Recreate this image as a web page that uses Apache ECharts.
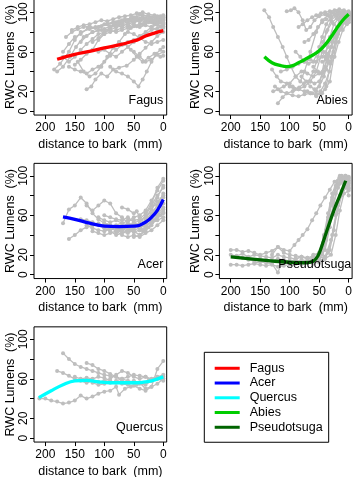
<!DOCTYPE html>
<html><head><meta charset="utf-8">
<script src="https://cdn.jsdelivr.net/npm/echarts@6/dist/echarts.min.js"></script>
<style>html,body{margin:0;padding:0;background:#fff}#c{width:354px;height:477px}</style>
</head><body><div id="c"></div>
<script>
// ---------- tick values ----------
const xTicks = [200, 150, 100, 50, 0];
const yTicks = [0, 20, 40, 60, 80, 100];
const yTickLabels = [0, 20, 60, 100];
const legendOrder = ['Fagus', 'Acer', 'Quercus', 'Abies', 'Pseudotsuga'];

// ---------- fitted (smooth) curves: [distance, RWC] ----------
const fagusFit = [[180,52.5],[150,57.5],[125,60.5],[100,64],[75,67],[50,71],[42,72.5],[30,76],[15,79],[0,81.5]];
const abiesFit = [[143,55],[130,49],[115,46],[105,45],[95,46],[85,49],[75,52],[60,57],[50,61],[40,67],[30,75],[20,84],[10,92],[0,98]];
const acerFit = [[170,58.5],[150,56],[125,52],[100,49],[75,48.5],[50,49],[40,50],[30,53],[20,58],[10,65],[0,76]];
const pseudoFit = [[200,18],[175,16.5],[150,15],[125,13.5],[100,12.5],[75,12],[60,13.5],[52,19],[45,30],[35,48],[25,65],[15,80],[5,95]];
const quercusFit = [[211,41],[190,48],[170,54],[150,58],[130,58.5],[110,57],[90,56],[70,56],[50,56],[35,56.5],[20,58],[0,62]];

// ---------- individual trees (grey) ----------
const fagusTrees = [
 [[185,42],[175,48],[160,60],[150,72],[140,80],[125,83],[110,85],[95,88],[80,90],[65,92],[50,95],[35,97],[20,95],[5,93],[0,92]],
 [[180,40],[170,45],[158,55],[148,65],[135,75],[120,80],[105,82],[90,86],[75,88],[60,90],[45,92],[30,94],[15,90],[0,88]],
 [[170,60],[160,68],[150,75],[140,78],[128,84],[115,85],[100,88],[85,90],[70,92],[55,94],[40,98],[25,96],[10,94],[0,95]],
 [[150,47],[140,52],[130,58],[120,62],[110,72],[100,78],[90,84],[80,88],[70,90],[60,92],[50,94],[40,92],[30,90],[20,92],[10,90],[0,93]],
 [[145,50],[135,40],[125,35],[115,38],[105,45],[95,55],[85,64],[75,70],[65,78],[55,84],[45,86],[35,88],[25,90],[15,88],[5,86],[0,85]],
 [[130,22],[122,25],[115,32],[105,38],[95,35],[85,42],[75,44],[62,46],[50,52],[40,58],[30,64],[20,70],[10,76],[0,80]],
 [[160,45],[150,42],[140,40],[130,38],[120,42],[110,45],[100,50],[90,56],[80,62],[70,67],[60,70],[50,72],[40,75],[30,78],[20,82],[10,84],[0,86]],
 [[120,70],[110,74],[100,80],[90,85],[80,86],[70,88],[60,88],[50,90],[40,93],[30,92],[20,90],[10,92],[0,94]],
 [[110,60],[100,62],[90,58],[80,55],[70,60],[60,65],[50,70],[40,76],[30,80],[20,85],[10,88],[0,90]],
 [[90,45],[80,40],[70,38],[60,35],[50,30],[42,25],[35,32],[28,40],[20,50],[12,58],[5,62],[0,65]],
 [[100,78],[90,80],[80,82],[70,84],[60,86],[50,88],[40,85],[30,87],[20,85],[10,82],[0,84]],
 [[75,70],[65,68],[55,62],[45,55],[35,50],[25,54],[15,58],[5,55],[0,56]],
 [[60,80],[50,78],[40,74],[30,70],[20,68],[10,70],[0,72]],
 [[140,70],[130,76],[120,80],[110,82],[100,83],[90,82],[80,80],[70,82],[60,84],[50,86],[40,88],[30,90],[20,92],[10,95],[0,96]],
 [[170,55],[160,50],[150,55],[140,62],[130,68],[120,73],[110,78],[100,80],[90,82],[80,85],[70,86],[60,88],[50,90],[40,91],[30,93],[20,94],[10,96],[0,97]],
 [[50,60],[40,55],[30,50],[20,52],[10,57],[0,60]],
 [[155,82],[145,85],[135,87],[125,88],[115,90],[105,92],[95,91],[85,93],[75,95],[65,96],[55,97],[45,99],[35,100],[25,98],[15,97],[5,96],[0,95]],
 [[165,75],[155,80],[145,83],[135,85],[125,86],[115,84],[105,86],[95,88],[85,89],[75,91],[65,93],[55,92],[45,94],[35,95],[25,93],[15,92],[5,90],[0,89]]
];
const abiesTrees = [
 [[143,102],[135,95],[128,85],[120,75],[112,65],[105,55],[98,45],[90,35],[82,30],[75,40],[65,60],[55,80],[45,92],[35,97],[25,99],[15,100],[5,98],[0,96]],
 [[105,101],[98,102],[92,104],[85,100],[78,92],[72,82],[65,85],[58,92],[50,96],[40,98],[30,100],[20,101],[10,99],[0,98]],
 [[130,42],[122,35],[115,30],[105,28],[95,25],[85,22],[75,25],[65,30],[55,40],[45,60],[38,80],[30,92],[20,97],[10,99],[0,99]],
 [[125,25],[115,20],[105,18],[95,20],[85,22],[75,20],[65,18],[55,20],[48,30],[40,55],[32,75],[25,88],[15,95],[5,97],[0,97]],
 [[120,8],[112,14],[105,18],[95,16],[85,15],[75,17],[65,18],[55,17],[45,18],[38,25],[30,50],[22,75],[15,90],[5,95],[0,94]],
 [[128,20],[120,22],[110,25],[100,28],[90,35],[80,40],[70,38],[60,35],[50,38],[40,45],[30,65],[20,85],[10,95],[0,97]],
 [[115,40],[105,42],[95,45],[85,48],[75,50],[65,52],[55,50],[45,55],[35,65],[25,80],[15,92],[5,98],[0,99]],
 [[90,60],[82,55],[75,50],[68,48],[60,50],[52,60],[45,75],[38,88],[30,95],[20,98],[10,101],[0,100]],
 [[80,35],[72,30],[65,25],[58,22],[50,25],[42,35],[35,50],[28,70],[20,85],[12,93],[5,96],[0,97]],
 [[70,20],[62,18],[55,16],[48,18],[40,22],[32,30],[25,55],[18,78],[10,90],[3,94],[0,95]],
 [[60,45],[52,40],[45,38],[38,42],[30,55],[22,70],[15,82],[8,90],[0,92]],
 [[85,85],[78,88],[70,92],[62,95],[55,97],[47,99],[40,100],[32,101],[24,102],[16,103],[8,102],[0,101]],
 [[75,70],[68,72],[60,78],[52,85],[45,90],[38,93],[30,96],[22,97],[14,98],[6,99],[0,98]],
 [[65,30],[58,28],[50,30],[43,40],[36,55],[28,70],[20,80],[12,88],[5,92],[0,93]],
 [[55,15],[48,20],[40,28],[33,40],[26,60],[20,75],[12,85],[5,90],[0,90]],
 [[100,25],[92,22],[84,24],[76,28],[68,30],[60,40],[52,55],[44,70],[36,82],[28,90],[20,94],[12,96],[4,98],[0,98]],
 [[50,65],[43,60],[36,58],[29,65],[22,78],[15,88],[8,94],[0,96]],
 [[45,50],[38,52],[31,48],[24,55],[17,70],[10,82],[3,88],[0,90]]
];
const acerTrees = [
 [[170,52],[160,66],[150,70],[140,78],[130,72],[120,62],[110,56],[100,52],[90,50],[80,48],[70,46],[60,44],[50,46],[40,52],[30,60],[20,70],[10,80],[0,88]],
 [[160,36],[150,40],[140,45],[130,48],[120,50],[110,52],[100,48],[90,46],[80,50],[70,52],[60,54],[50,58],[40,60],[30,65],[20,75],[10,85],[0,95]],
 [[130,70],[120,65],[110,70],[100,75],[90,72],[80,62],[70,58],[60,52],[50,50],[40,48],[30,55],[20,62],[10,70],[0,78]],
 [[70,68],[60,66],[50,62],[45,64],[40,58],[30,50],[20,58],[10,65],[0,72]],
 [[140,56],[130,55],[120,53],[110,50],[100,47],[90,44],[80,40],[70,42],[60,45],[50,43],[40,45],[30,48],[20,55],[10,62],[0,68]],
 [[120,44],[110,42],[100,40],[90,42],[80,44],[70,40],[60,38],[50,40],[40,38],[30,42],[20,45],[10,50],[0,55]],
 [[110,58],[100,55],[90,53],[80,55],[70,52],[60,50],[50,52],[40,55],[30,58],[20,66],[10,78],[0,90]],
 [[95,50],[85,48],[75,46],[65,48],[55,46],[45,50],[35,45],[25,48],[15,55],[5,60],[0,62]],
 [[80,42],[70,45],[60,47],[50,44],[40,40],[30,44],[20,52],[10,60],[0,66]],
 [[60,55],[50,55],[40,56],[30,62],[20,72],[10,88],[0,97]],
 [[50,38],[40,40],[30,46],[20,50],[10,58],[0,63]],
 [[100,60],[90,58],[80,56],[70,55],[60,58],[50,53],[40,50],[30,52],[20,60],[10,70],[0,82]],
 [[40,45],[30,56],[20,66],[10,74],[0,80]],
 [[130,50],[120,47],[110,45],[100,44],[90,46],[80,45],[70,43],[60,42],[50,45],[40,47],[30,50],[20,52],[10,55],[0,58]]
];
const pseudoTrees = [
 [[200,25],[190,25],[180,23],[170,24],[160,22],[150,20],[140,22],[130,24],[120,28],[110,25],[100,24],[92,30],[85,35],[78,40],[70,46],[62,55],[55,62],[48,70],[40,78],[32,86],[24,94],[16,98],[8,95],[0,92]],
 [[200,10],[190,10],[180,9],[170,10],[160,11],[150,10],[140,9],[130,10],[120,8],[110,9],[100,10],[90,11],[80,10],[70,12],[60,13],[50,15],[42,30],[35,55],[28,75],[20,90],[12,96],[5,94],[0,90]],
 [[200,20],[190,19],[180,21],[170,18],[160,20],[150,19],[140,18],[130,17],[120,20],[110,18],[100,17],[90,16],[80,18],[70,17],[60,19],[50,22],[42,40],[35,62],[28,82],[20,94],[12,100],[5,98],[0,95]],
 [[180,17],[170,15],[160,14],[150,16],[140,15],[130,14],[120,16],[110,15],[100,14],[90,15],[80,13],[70,12],[60,14],[52,16],[45,20],[38,35],[30,60],[22,82],[15,92],[8,94],[0,93]],
 [[160,12],[150,13],[140,12],[130,11],[120,2],[115,10],[110,12],[100,11],[90,12],[80,13],[70,14],[60,15],[50,14],[45,22],[38,45],[30,70],[22,88],[14,96],[6,100],[0,99]],
 [[130,20],[120,28],[110,22],[100,20],[90,19],[80,18],[70,16],[60,18],[50,17],[40,18],[32,25],[25,45],[18,70],[12,85],[5,90],[0,88]],
 [[110,12],[100,14],[90,13],[80,15],[70,14],[60,16],[50,15],[40,16],[30,20],[22,40],[15,65],[8,82],[0,85]],
 [[90,16],[80,18],[70,17],[60,15],[50,18],[40,25],[32,48],[25,72],[18,88],[10,95],[3,96],[0,95]],
 [[70,12],[60,11],[50,13],[40,18],[30,35],[22,60],[15,80],[8,92],[0,98]],
 [[60,20],[50,22],[42,38],[35,58],[28,78],[20,90],[12,98],[5,100],[0,97]],
 [[50,12],[42,15],[35,22],[28,40],[20,62],[12,80],[5,88],[0,87]],
 [[45,25],[38,45],[30,72],[22,90],[15,100],[8,98],[0,80]]
];
const quercusTrees = [
 [[170,86],[160,80],[150,75],[140,72],[130,70],[120,68],[110,66],[100,64],[90,63],[80,62],[70,60],[60,58],[50,57],[40,55],[30,54],[20,58],[10,62],[0,64]],
 [[180,68],[170,66],[160,63],[150,60],[140,58],[130,56],[120,58],[110,57],[100,58],[90,60],[80,64],[70,68],[60,66],[50,62],[40,60],[30,62],[20,60],[10,60],[0,62]],
 [[210,40],[200,40],[190,38],[180,37],[170,35],[160,36],[150,38],[140,43],[130,40],[120,42],[110,45],[100,47],[90,48],[80,52],[75,44],[65,50],[55,52],[45,54],[35,56],[25,58],[15,60],[5,61],[0,60]],
 [[130,76],[120,74],[110,70],[100,68],[90,65],[80,62],[70,58],[60,56],[50,58],[40,56],[30,50],[20,52],[10,55],[0,60]],
 [[150,62],[140,60],[130,61],[120,60],[110,62],[100,61],[90,58],[80,56],[70,55],[60,54],[50,53],[40,50],[30,48],[20,52],[10,70],[0,78]],
 [[120,56],[110,54],[100,55],[90,56],[80,58],[70,60],[60,62],[50,64],[40,63],[30,62],[20,58],[10,60],[0,58]]
];

// ---------- panel setup ----------
const panels = [
  {name:'Fagus',       row:0, col:0, color:'#FF0000', fit:fagusFit,   trees:fagusTrees,   labelRight:163.3},
  {name:'Abies',       row:0, col:1, color:'#00CD00', fit:abiesFit,   trees:abiesTrees,   labelRight:347.7},
  {name:'Acer',        row:1, col:0, color:'#0000FF', fit:acerFit,    trees:acerTrees,    labelRight:163.3},
  {name:'Pseudotsuga', row:1, col:1, color:'#006400', fit:pseudoFit,  trees:pseudoTrees,  labelRight:351.3},
  {name:'Quercus',     row:2, col:0, color:'#00FFFF', fit:quercusFit, trees:quercusTrees, labelRight:163.3}
];

const FONT = '"Liberation Sans", Arial, Helvetica, sans-serif';
const FS = 12.5;
const K = 0.988;           // px per % unit
const X_MIN = -5.8, X_MAX = 219.2;

const grids = [], xAxes = [], yAxes = [], series = [], graphics = [];
panels.forEach((p, i) => {
  const y100 = 12.3 + 163.5 * p.row;
  const yMax = p.row === 0 ? 100 + (y100 + 1) / K : 112.6;
  const top = y100 - (yMax - 100) * K;
  const height = (yMax + 4) * K;
  const left = 34 + 185.4 * p.col;
  grids.push({left: left, top: top, width: 132.7, height: height, show: true,
    borderColor: '#000', borderWidth: 1, backgroundColor: 'transparent',
    containLabel: false, outerBoundsMode: 'none'});
  xAxes.push({type: 'value', gridIndex: i, inverse: true, min: X_MIN, max: X_MAX,
    name: 'distance to bark  (mm)', nameLocation: 'middle', nameGap: 22.5,
    nameTextStyle: {fontSize: FS, color: '#000', fontFamily: FONT},
    axisLine: {show: false, onZero: false},
    axisTick: {show: true, length: 4, lineStyle: {color: '#000'}, customValues: xTicks},
    axisLabel: {show: true, margin: 7, fontSize: 12, color: '#000', fontFamily: FONT, customValues: xTicks,
      hideOverlap: false, showMinLabel: true, showMaxLabel: true},
    splitLine: {show: false}});
  yAxes.push({type: 'value', gridIndex: i, min: -4, max: yMax,
    name: 'RWC Lumens  (%)', nameLocation: 'middle', nameGap: 16,
    nameTextStyle: {fontSize: FS, color: '#000', fontFamily: FONT},
    axisLine: {show: false, onZero: false},
    axisTick: {show: true, length: 4, lineStyle: {color: '#000'}, customValues: yTicks},
    axisLabel: {show: true, margin: 4, rotate: 90, fontSize: 12, color: '#000', fontFamily: FONT, customValues: yTickLabels},
    splitLine: {show: false}});
  p.trees.forEach(t => {
    series.push({type: 'line', xAxisIndex: i, yAxisIndex: i, data: t,
      symbol: 'circle', symbolSize: 4, showSymbol: true,
      lineStyle: {color: '#BEBEBE', width: 1.3}, itemStyle: {color: '#BEBEBE'},
      silent: true, animation: false, z: 2});
  });
  series.push({type: 'line', name: p.name, xAxisIndex: i, yAxisIndex: i, data: p.fit,
    showSymbol: false, smooth: 0.4,
    lineStyle: {color: p.color, width: 3.3}, itemStyle: {color: p.color},
    silent: true, animation: false, z: 5});
  graphics.push({type: 'text', x: p.labelRight, y: y100 + 88.7, z: 100,
    style: {text: p.name, align: 'right', verticalAlign: 'middle',
      fontSize: FS, fontFamily: FONT, fill: '#000'}});
});

const chart = echarts.init(document.getElementById('c'), null, {renderer: 'canvas'});
chart.setOption({
  animation: false,
  backgroundColor: '#fff',
  grid: grids, xAxis: xAxes, yAxis: yAxes, series: series,
  legend: {data: legendOrder, orient: 'vertical', left: 204.3, top: 352.3,
    icon: 'rect', itemWidth: 25, itemHeight: 3, itemGap: 0,
    padding: [8.6, 6, 7.6, 10.4], borderColor: '#000', borderWidth: 1,
    selectedMode: false,
    textStyle: {fontSize: FS, color: '#000', fontFamily: FONT, lineHeight: 14.75, padding: [0, 0, 0, 5]}},
  graphic: graphics
});
</script></body></html>
